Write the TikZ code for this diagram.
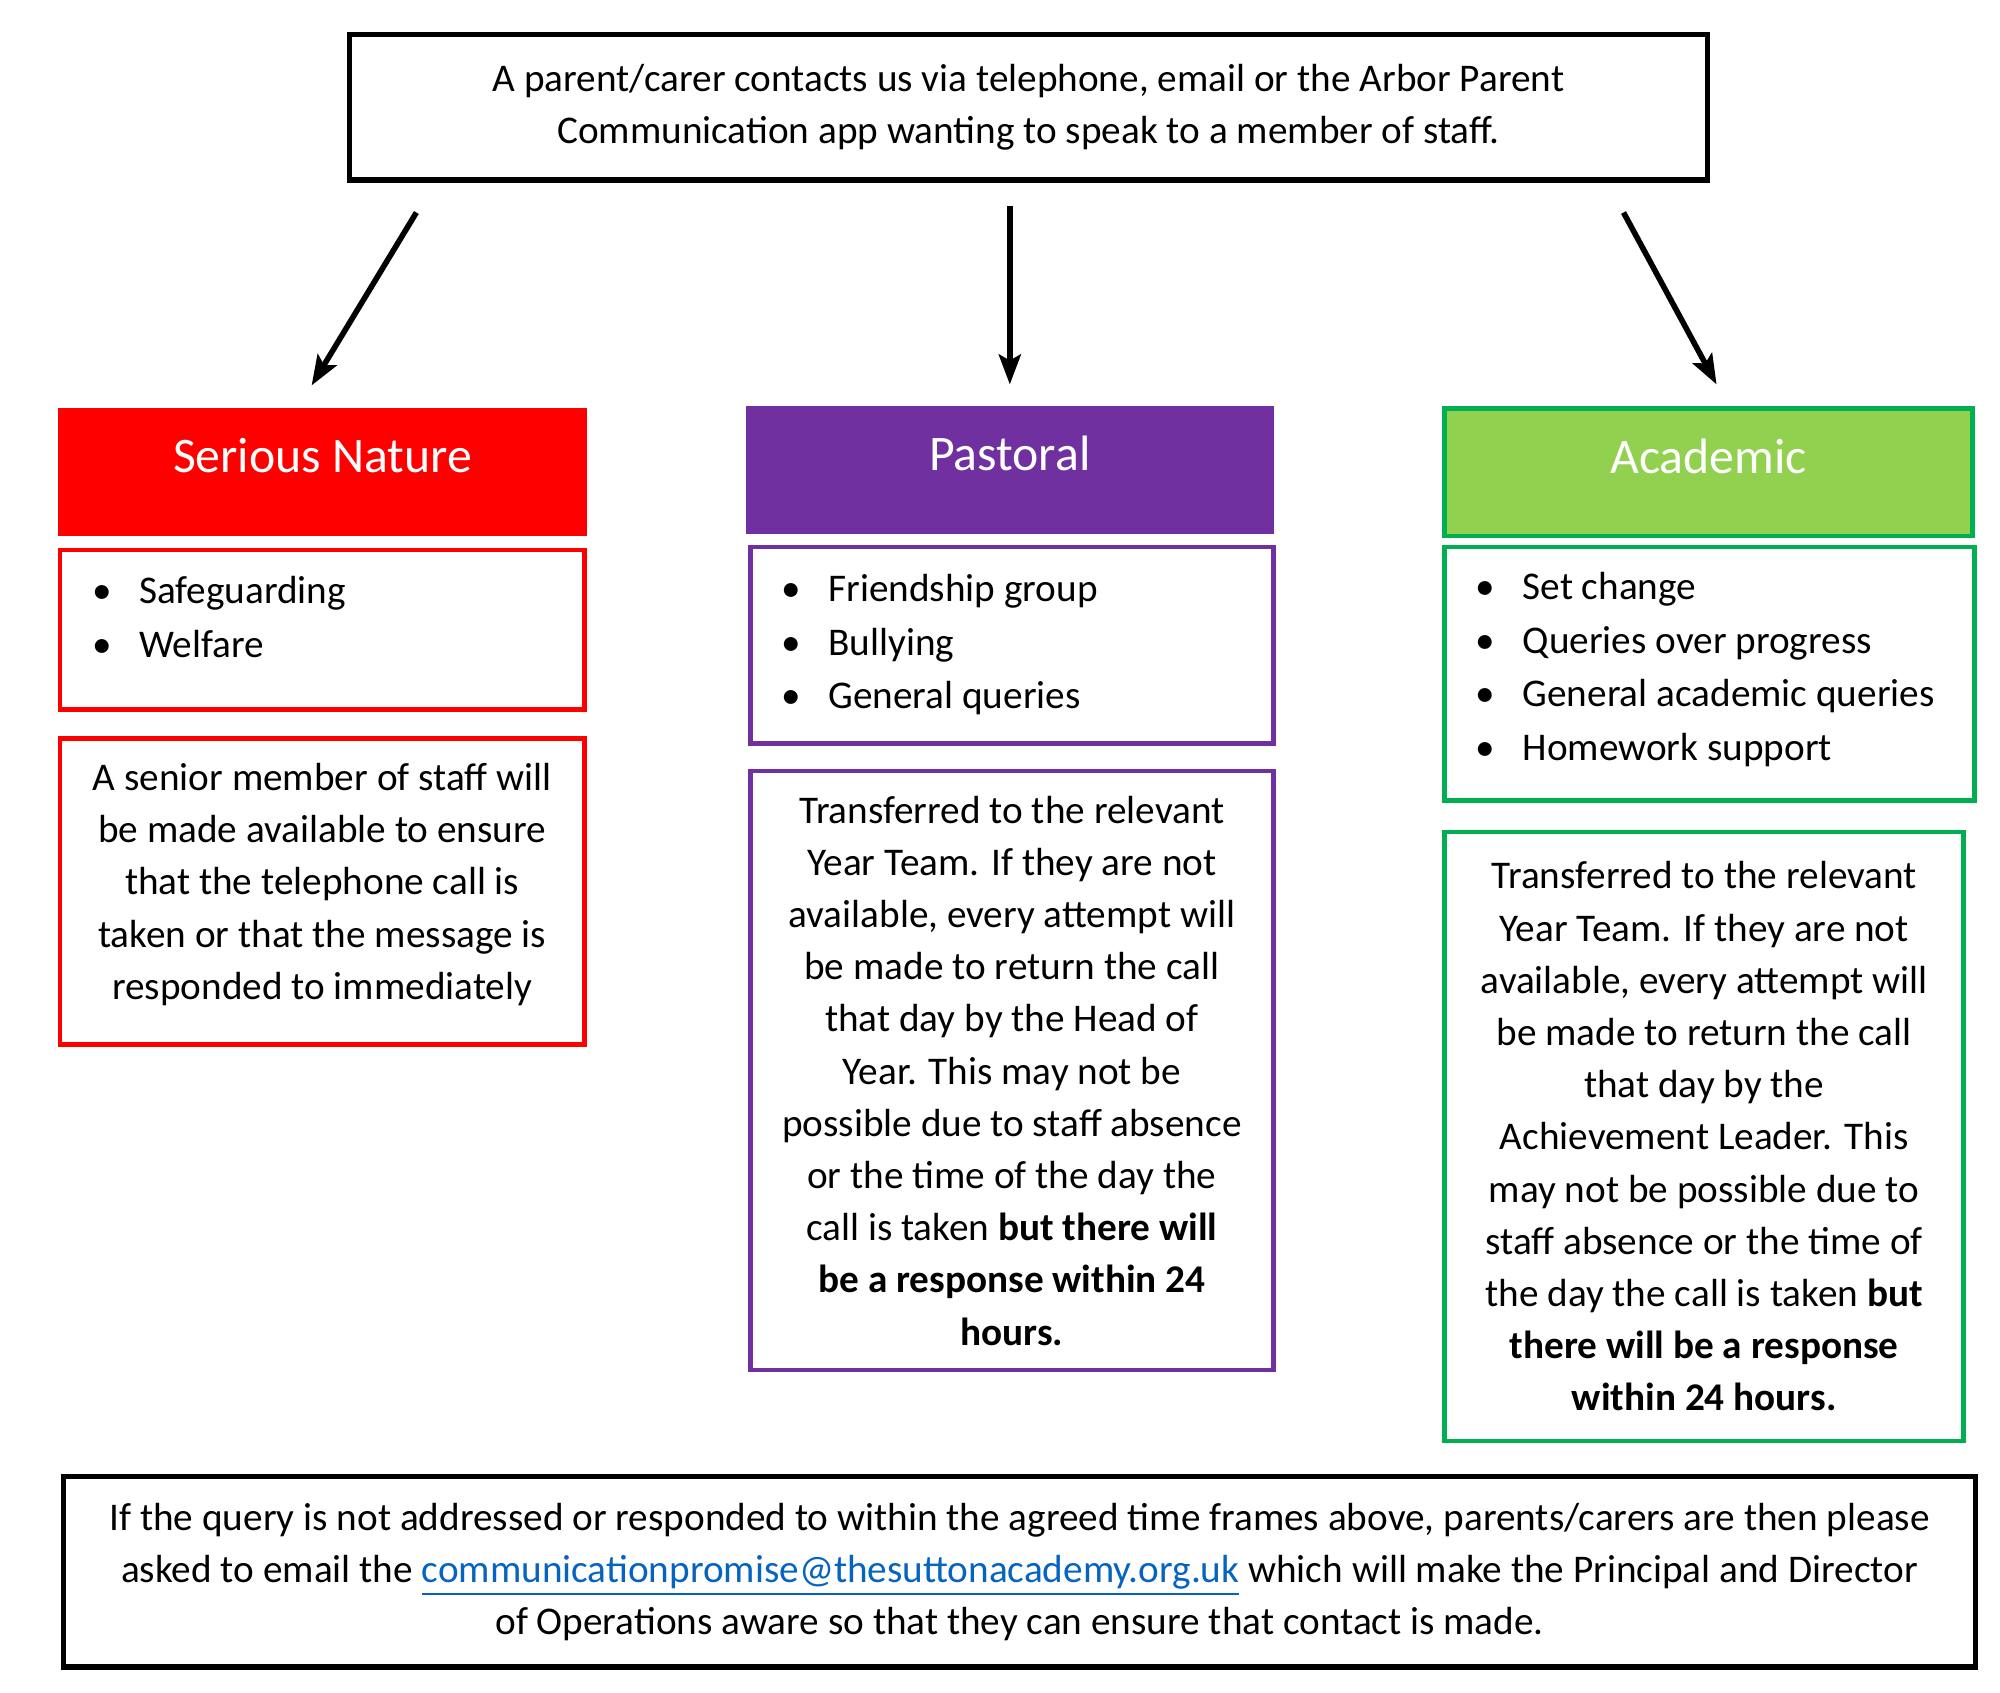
\documentclass[tikz,border=0pt]{standalone}
\usepackage{fontspec}
\setmainfont{Carlito}
\usetikzlibrary{arrows.meta,positioning,calc}

\definecolor{srsred}{HTML}{FF0000}
\definecolor{paspurple}{HTML}{7030A0}
\definecolor{acafill}{HTML}{92D050}
\definecolor{acagreen}{HTML}{00B050}
\definecolor{linkblue}{HTML}{0563C1}

\newcommand{\txtfont}{\fontsize{11.2}{14.9}\selectfont}
\newcommand{\lstfont}{\fontsize{11.2}{15.3}\selectfont}
\newcommand{\hdfont}{\fontsize{14.2}{17}\selectfont}
\newcommand{\itm}[1]{\makebox[0.47cm][l]{\textbullet}#1}

\tikzset{
  frame/.style={draw=black, line width=1.5pt, align=center, font=\txtfont, inner sep=0pt, anchor=north west},
  header/.style={minimum width=5.3cm, text height=0.65cm, text depth=0.63cm, inner xsep=0pt, inner ysep=0pt, text=white, font=\hdfont, anchor=north west},
  listbox/.style={line width=1.3pt, inner sep=0pt, anchor=north west},
  items/.style={align=left, font=\lstfont, inner sep=0pt, anchor=north west},
  descbox/.style={line width=1.3pt, inner sep=0pt, align=center, font=\txtfont, anchor=north west},
  arr/.style={line width=1.6pt, -{Stealth[length=0.3cm,width=0.22cm,inset=0.06cm]}}
}

\begin{document}
\begin{tikzpicture}[x=0.01cm,y=-0.01cm]
\useasboundingbox (0,0) rectangle (2008,1698.8);

% top
\node[frame, minimum width=13.63cm, minimum height=1.46cm] (contact) at (348,32)
  {A parent/carer contacts us via telephone, email or the Arbor Parent\\Communication app wanting to speak to a member of staff.};

% headers
\node[header, fill=srsred] (serhead) at (58,409) {Serious Nature};
\node[header, fill=paspurple] (pashead) at (748,407) {Pastoral};
\node[header, fill=acafill, draw=acagreen, line width=1.3pt] (acahead) at (1448,408) {Academic};

% lists
\node[listbox, draw=srsred, minimum width=5.26cm, minimum height=1.6cm] (serlist) at (58,550) {};
\node[items] (seritems) at ([xshift=0.34cm,yshift=-0.28cm]serlist.north west)
  {\itm{Safeguarding}\\\itm{Welfare}};

\node[listbox, draw=paspurple, minimum width=5.25cm, minimum height=1.97cm] (paslist) at (751,547) {};
\node[items] (pasitems) at ([xshift=0.33cm,yshift=-0.29cm]paslist.north west)
  {\itm{Friendship group}\\\itm{Bullying}\\\itm{General queries}};

\node[listbox, draw=acagreen, minimum width=5.32cm, minimum height=2.54cm] (acalist) at (1448,547) {};
\node[items] (acaitems) at ([xshift=0.33cm,yshift=-0.27cm]acalist.north west)
  {\itm{Set change}\\\itm{Queries over progress}\\\itm{General academic queries}\\\itm{Homework support}};

% descriptions
\node[descbox, draw=srsred, minimum width=5.26cm, minimum height=3.07cm, text depth=0.2cm] (serdesc) at (58,739)
  {A senior member of staff will\\be made available to ensure\\that the telephone call is\\taken or that the message is\\responded to immediately};

\node[descbox, draw=paspurple, minimum width=5.25cm, minimum height=6.01cm] (pasdesc) at (751,772)
  {Transferred to the relevant\\Year Team. If they are not\\available, every attempt will\\be made to return the call\\that day by the Head of\\Year. This may not be\\possible due to staff absence\\or the time of the day the\\call is taken \textbf{but there will}\\\textbf{be a response within 24}\\\textbf{hours.}};

\node[descbox, draw=acagreen, minimum width=5.21cm, minimum height=6.11cm] (acadesc) at (1448,833)
  {Transferred to the relevant\\Year Team. If they are not\\available, every attempt will\\be made to return the call\\that day by the\\Achievement Leader. This\\may not be possible due to\\staff absence or the time of\\the day the call is taken \textbf{but}\\\textbf{there will be a response}\\\textbf{within 24 hours.}};

% bottom
\node[frame, minimum width=19.19cm, minimum height=1.91cm] (escalate) at (61,1480)
  {If the query is not addressed or responded to within the agreed time frames above, parents/carers are then please\\asked to email the \textcolor{linkblue}{\underline{communicationpromise@thesuttonacademy.org.uk}} which will make the Principal and Director\\of Operations aware so that they can ensure that contact is made.};

% arrows
\coordinate (sstart) at ([xshift=0.70cm,yshift=-0.30cm]contact.south west);
\coordinate (send) at ([xshift=-0.11cm,yshift=0.22cm]serhead.north);
\coordinate (pstart) at ($(contact.south -| pashead.north)+(0,-0.23cm)$);
\coordinate (pend) at ([yshift=0.21cm]pashead.north);
\coordinate (astart) at ([xshift=-0.87cm,yshift=-0.30cm]contact.south east);
\coordinate (aend) at ([xshift=0.08cm,yshift=0.22cm]acahead.north);

\draw[arr] (sstart) -- (send);
\draw[arr] (pstart) -- (pend);
\draw[arr] (astart) -- (aend);

\end{tikzpicture}
\end{document}
